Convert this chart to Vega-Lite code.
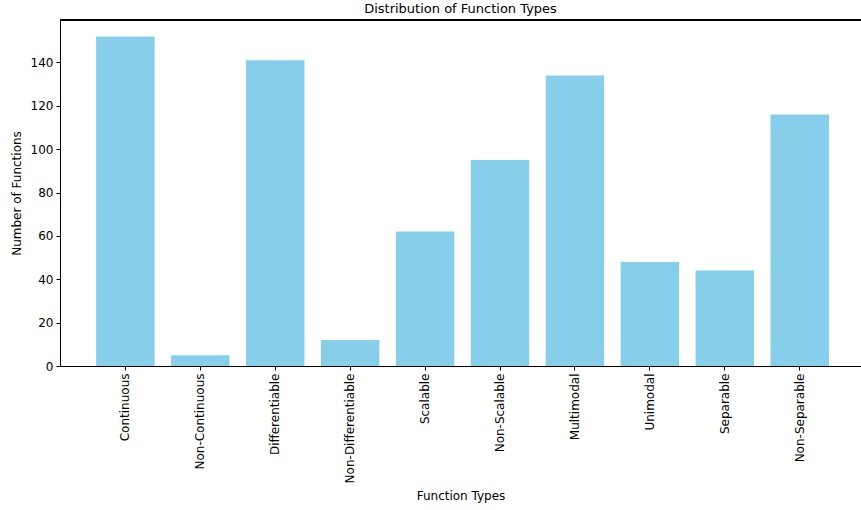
{
  "$schema": "https://vega.github.io/schema/vega-lite/v6.json",
  "autosize": {"type": "none"},
  "padding": {"left": 60, "top": 20, "right": 0, "bottom": 144},
  "width": 801,
  "height": 346,
  "background": "white",
  "config": {
    "view": {"stroke": null},
    "font": "DejaVu Sans",
    "axis": {"labelFont": "DejaVu Sans", "titleFont": "DejaVu Sans", "labelColor": "black", "titleColor": "black", "domainColor": "black", "tickColor": "black", "labelFontSize": 12, "titleFontSize": 12, "titleFontWeight": "normal", "tickSize": 4, "grid": false}
  },
  "title": {"text": "Distribution of Function Types", "fontSize": 13, "fontWeight": "normal", "font": "DejaVu Sans", "color": "black", "offset": 4, "anchor": "middle", "frame": "group"},
  "data": {"values": [
    {"type": "Continuous", "count": 152},
    {"type": "Non-Continuous", "count": 5},
    {"type": "Differentiable", "count": 141},
    {"type": "Non-Differentiable", "count": 12},
    {"type": "Scalable", "count": 62},
    {"type": "Non-Scalable", "count": 95},
    {"type": "Multimodal", "count": 134},
    {"type": "Unimodal", "count": 48},
    {"type": "Separable", "count": 44},
    {"type": "Non-Separable", "count": 116}
  ]},
  "layer": [
    {
      "mark": {"type": "bar", "color": "#87CEEB"},
      "encoding": {
        "x": {"field": "type", "type": "nominal", "sort": null, "title": "Function Types",
              "scale": {"paddingInner": 0.22, "paddingOuter": 0.455, "align": 0.53},
              "axis": {"labelAngle": -90, "labelPadding": 3, "titlePadding": 8, "domainWidth": 1}},
        "y": {"field": "count", "type": "quantitative", "title": "Number of Functions",
              "scale": {"domain": [0, 159.6], "nice": false, "zero": true},
              "axis": {"values": [0, 20, 40, 60, 80, 100, 120, 140], "labelPadding": 3, "titlePadding": 7}}
      }
    },
    {
      "mark": {"type": "rule", "color": "black", "strokeWidth": 1},
      "encoding": {"y": {"datum": 159.6}}
    }
  ]
}
